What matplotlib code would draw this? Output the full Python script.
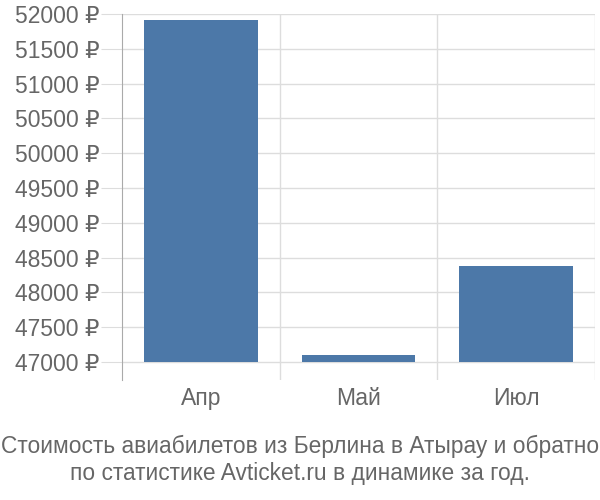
import matplotlib.pyplot as plt
from matplotlib.ticker import FuncFormatter, FixedLocator

plt.rcParams['font.family'] = ['Liberation Sans', 'DejaVu Sans']

months = ["Апр", "Май", "Июл"]
prices = [51915, 47100, 48380]
y_ticks = [47000, 47500, 48000, 48500, 49000, 49500, 50000, 50500, 51000, 51500, 52000]
title = "Стоимость авиабилетов из Берлина в Атырау и обратно\nпо статистике Avticket.ru в динамике за год."

fig = plt.figure(figsize=(6, 5), dpi=100)
ax = fig.add_axes([122 / 600, 1 - 380 / 500, (595 - 122) / 600, (380 - 14) / 500])

x = list(range(len(months)))
base = 47000
ax.bar(x, [p - base for p in prices], bottom=base, width=0.72, color="#4c78a8", zorder=3)

ax.set_xlim(-0.5, len(months) - 0.5)
ax.set_ylim(46740, 52000)

ax.yaxis.set_major_locator(FixedLocator(y_ticks))
ax.yaxis.set_major_formatter(FuncFormatter(lambda v, pos: f"{int(v)} ₽"))
ax.set_xticks(x)
ax.set_xticklabels(months)
ax.xaxis.set_minor_locator(FixedLocator([0.5, 1.5, 2.5]))

ax.grid(axis="y", which="major", color="#dddddd", linewidth=1, zorder=0)
ax.grid(axis="x", which="minor", color="#dddddd", linewidth=1, zorder=0)

for s in ["top", "right", "bottom"]:
    ax.spines[s].set_visible(False)
ax.spines["left"].set_color("#aaaaaa")

ax.tick_params(axis="y", length=15, color="#dddddd", labelsize=16.5, labelcolor="#666666", pad=1)
ax.tick_params(axis="x", which="major", length=0, labelsize=16.5, labelcolor="#666666", pad=5)
ax.tick_params(axis="x", which="minor", length=0)

fig.text(0.5, 0.08, title, ha="center", va="center", fontsize=16.4, color="#666666", linespacing=1.2)

fig.savefig("out.png", dpi=100)
